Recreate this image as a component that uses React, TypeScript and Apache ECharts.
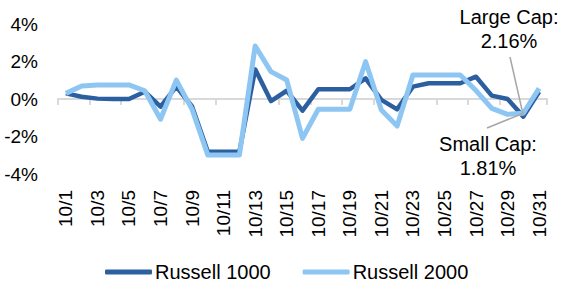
import React, { useEffect, useRef } from "react";
import * as echarts from "echarts";

const categories = [
  "10/1", "10/2", "10/3", "10/4", "10/5", "10/6", "10/7", "10/8", "10/9", "10/10",
  "10/11", "10/12", "10/13", "10/14", "10/15", "10/16", "10/17", "10/18", "10/19", "10/20",
  "10/21", "10/22", "10/23", "10/24", "10/25", "10/26", "10/27", "10/28", "10/29", "10/30", "10/31",
];

const russell1000 = [
  0.3, 0.12, 0.02, 0.0, 0.0, 0.39, -0.41, 0.66, -0.4, -2.81,
  -2.81, -2.81, 1.58, -0.11, 0.44, -0.62, 0.52, 0.52, 0.52, 1.1,
  -0.05, -0.55, 0.66, 0.84, 0.84, 0.84, 1.19, 0.18, 0.0, -0.94, 0.39,
];

const russell2000 = [
  0.3, 0.69, 0.75, 0.75, 0.75, 0.44, -1.08, 1.01, -0.55, -2.99,
  -2.99, -2.99, 2.83, 1.46, 1.01, -2.1, -0.55, -0.55, -0.55, 1.99,
  -0.59, -1.44, 1.28, 1.28, 1.28, 1.28, 0.45, -0.5, -0.82, -0.76, 0.57,
];

const yTicks = { min: -4, max: 4, interval: 2 };

const largeCapLabel = ["Large Cap:", "2.16%"];
const smallCapLabel = ["Small Cap:", "1.81%"];

const FONT = "Liberation Sans, Arial, sans-serif";
const DARK = "#2B5F9F";
const LIGHT = "#8DC6F3";

export default function App() {
  const ref = useRef<HTMLDivElement>(null);
  useEffect(() => {
    if (!ref.current) return;
    const chart = echarts.init(ref.current, undefined, { renderer: "svg" });
    chart.setOption({
      animation: false,
      grid: { left: 58, right: 37, top: 24, bottom: 122, containLabel: false },
      legend: {
        bottom: 9,
        left: 100,
        itemWidth: 47,
        itemHeight: 5,
        itemGap: 32,
        icon: "roundRect",
        textStyle: { fontSize: 20, color: "#000", fontFamily: FONT, padding: [0, 0, 0, -2] },
        data: ["Russell 1000", "Russell 2000"],
      },
      xAxis: [
        {
          type: "category",
          data: categories,
          boundaryGap: true,
          position: "bottom",
          axisLine: { show: false, onZero: false },
          axisTick: { show: false },
          axisLabel: {
            rotate: 90,
            interval: 1,
            margin: 16,
            fontSize: 19,
            color: "#000",
            fontFamily: FONT,
          },
        },
        {
          type: "category",
          data: categories,
          boundaryGap: true,
          position: "bottom",
          axisLine: { show: true, onZero: true, lineStyle: { color: "#D9D9D9", width: 2 } },
          axisTick: { show: true, interval: 1, length: 6, lineStyle: { color: "#D9D9D9", width: 2 } },
          axisLabel: { show: false },
        },
      ],
      yAxis: {
        type: "value",
        min: yTicks.min,
        max: yTicks.max,
        interval: yTicks.interval,
        axisLine: { show: false },
        axisTick: { show: false },
        splitLine: { show: false },
        axisLabel: {
          formatter: "{value}%",
          fontSize: 19,
          color: "#000",
          margin: 20,
          fontFamily: FONT,
        },
      },
      series: [
        {
          name: "Russell 1000",
          type: "line",
          data: russell1000,
          xAxisIndex: 0,
          showSymbol: false,
          symbol: "none",
          itemStyle: { color: DARK },
          lineStyle: { color: DARK, width: 4.5, join: "round" },
          z: 2,
        },
        {
          name: "Russell 2000",
          type: "line",
          data: russell2000,
          xAxisIndex: 0,
          showSymbol: false,
          symbol: "none",
          itemStyle: { color: LIGHT },
          lineStyle: { color: LIGHT, width: 5, join: "round" },
          z: 3,
        },
      ],
    });

    const last = categories.length - 2;
    const pDark = chart.convertToPixel({ xAxisIndex: 0, yAxisIndex: 0 }, [last, russell1000[last]]) as number[];
    const pLight = chart.convertToPixel({ xAxisIndex: 0, yAxisIndex: 0 }, [last, russell2000[last]]) as number[];

    const textStyle = {
      fontSize: 20,
      fill: "#000",
      fontFamily: FONT,
      align: "center",
      verticalAlign: "middle",
      lineHeight: 24,
    };

    chart.setOption({
      graphic: [
        {
          type: "line",
          shape: { x1: 510, y1: 57, x2: pDark[0], y2: pDark[1] - 1 },
          style: { stroke: "#A6A6A6", lineWidth: 1.5 },
          z: 10,
        },
        {
          type: "line",
          shape: { x1: 487, y1: 128, x2: pLight[0], y2: pLight[1] },
          style: { stroke: "#A6A6A6", lineWidth: 1.5 },
          z: 10,
        },
        {
          type: "text",
          x: 509,
          y: 29,
          style: { ...textStyle, text: largeCapLabel.join("\n") },
          z: 10,
        },
        {
          type: "text",
          x: 488,
          y: 156,
          style: { ...textStyle, text: smallCapLabel.join("\n") },
          z: 10,
        },
      ],
    });

    return () => chart.dispose();
  }, []);

  return (
    <div
      ref={ref}
      style={{ position: "fixed", left: 0, top: 0, width: 584, height: 296, background: "#fff" }}
    />
  );
}
